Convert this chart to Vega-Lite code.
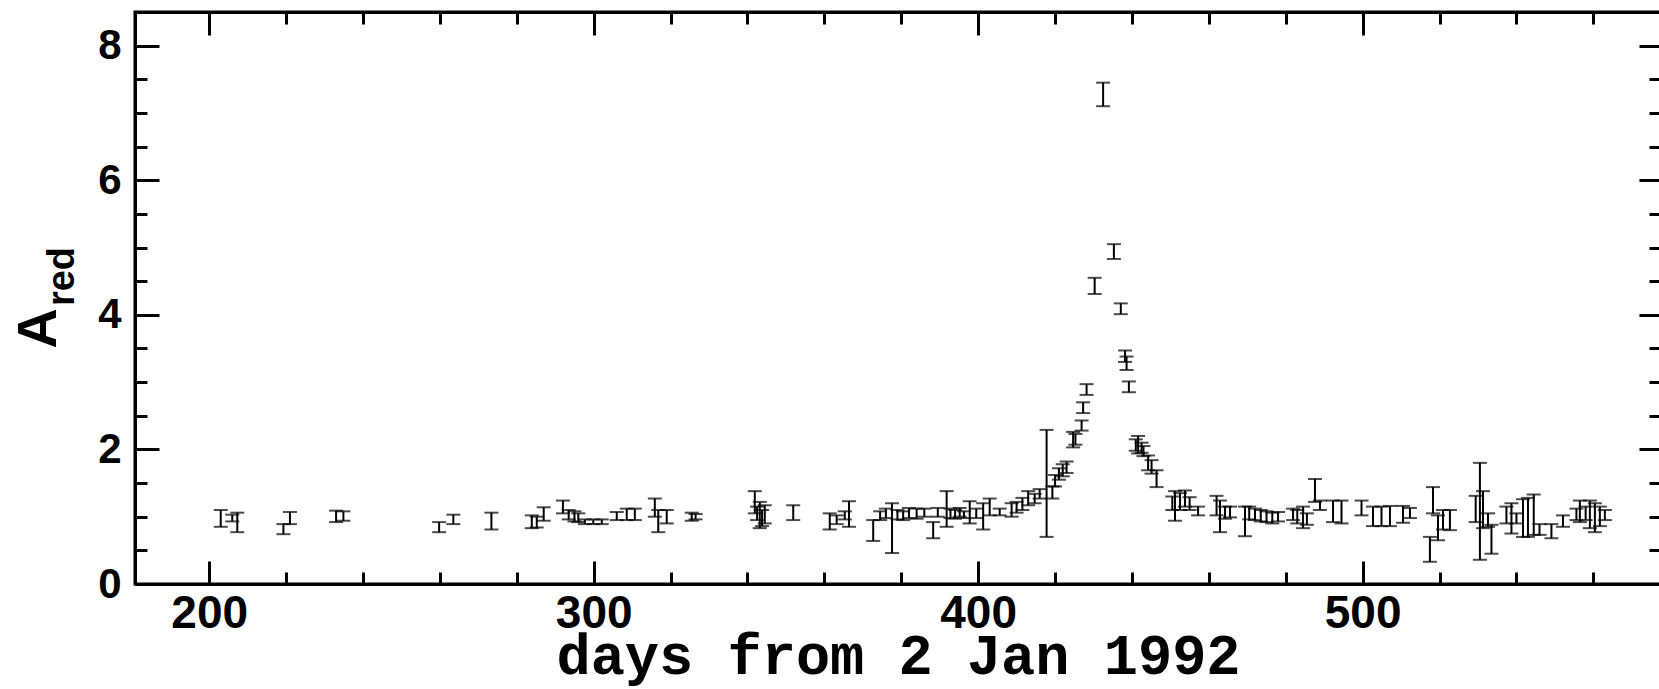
{
  "$schema": "https://vega.github.io/schema/vega-lite/v6.json",
  "width": 1526,
  "height": 572,
  "autosize": {"type": "none"},
  "padding": {"left": 135, "top": 12, "right": 0, "bottom": 105},
  "background": "white",
  "config": {
    "view": {"stroke": "black", "strokeWidth": 3},
    "axis": {"grid": false, "domainColor": "black", "domainWidth": 3, "tickColor": "black", "tickWidth": 3, "labelColor": "black", "titleColor": "black", "labelFont": "Liberation Sans", "labelFontWeight": "bold", "titleFont": "Liberation Sans"}
  },
  "data": {"values": [
    {"day": 203.0, "lo": 0.85, "hi": 1.10},
    {"day": 206.0, "lo": 0.93, "hi": 1.03},
    {"day": 207.3, "lo": 0.77, "hi": 1.06},
    {"day": 219.3, "lo": 0.74, "hi": 0.89},
    {"day": 221.0, "lo": 0.89, "hi": 1.07},
    {"day": 233.0, "lo": 0.92, "hi": 1.09},
    {"day": 234.9, "lo": 0.94, "hi": 1.08},
    {"day": 259.8, "lo": 0.77, "hi": 0.92},
    {"day": 263.5, "lo": 0.89, "hi": 1.03},
    {"day": 273.4, "lo": 0.81, "hi": 1.06},
    {"day": 283.9, "lo": 0.83, "hi": 1.02},
    {"day": 285.2, "lo": 0.84, "hi": 1.00},
    {"day": 287.0, "lo": 0.94, "hi": 1.14},
    {"day": 292.0, "lo": 1.05, "hi": 1.24},
    {"day": 293.5, "lo": 0.96, "hi": 1.10},
    {"day": 295.0, "lo": 0.93, "hi": 1.08},
    {"day": 296.0, "lo": 0.92, "hi": 1.05},
    {"day": 297.7, "lo": 0.89, "hi": 0.96},
    {"day": 299.9, "lo": 0.89, "hi": 0.96},
    {"day": 302.1, "lo": 0.89, "hi": 0.96},
    {"day": 306.0, "lo": 0.95, "hi": 1.07},
    {"day": 308.6, "lo": 0.95, "hi": 1.12},
    {"day": 310.7, "lo": 0.95, "hi": 1.12},
    {"day": 315.9, "lo": 1.00, "hi": 1.27},
    {"day": 316.8, "lo": 0.77, "hi": 1.10},
    {"day": 319.0, "lo": 0.90, "hi": 1.10},
    {"day": 325.5, "lo": 0.94, "hi": 1.06},
    {"day": 326.5, "lo": 0.96, "hi": 1.04},
    {"day": 341.9, "lo": 1.05, "hi": 1.38},
    {"day": 342.5, "lo": 0.95, "hi": 1.15},
    {"day": 343.2, "lo": 0.83, "hi": 1.22},
    {"day": 343.8, "lo": 0.86, "hi": 1.10},
    {"day": 344.5, "lo": 0.90, "hi": 1.17},
    {"day": 351.9, "lo": 0.95, "hi": 1.17},
    {"day": 361.4, "lo": 0.81, "hi": 1.05},
    {"day": 363.2, "lo": 0.89, "hi": 1.02},
    {"day": 365.3, "lo": 0.96, "hi": 1.08},
    {"day": 366.4, "lo": 0.85, "hi": 1.23},
    {"day": 372.7, "lo": 0.64, "hi": 0.95},
    {"day": 374.5, "lo": 0.95, "hi": 1.08},
    {"day": 376.0, "lo": 0.98, "hi": 1.12},
    {"day": 377.6, "lo": 0.46, "hi": 1.20},
    {"day": 379.0, "lo": 0.96, "hi": 1.10},
    {"day": 380.5, "lo": 0.95, "hi": 1.08},
    {"day": 382.0, "lo": 0.98, "hi": 1.13},
    {"day": 384.0, "lo": 0.97, "hi": 1.12},
    {"day": 386.0, "lo": 1.00, "hi": 1.12},
    {"day": 388.3, "lo": 0.68, "hi": 0.92},
    {"day": 389.5, "lo": 1.00, "hi": 1.13},
    {"day": 391.8, "lo": 0.85, "hi": 1.38},
    {"day": 392.8, "lo": 0.98, "hi": 1.12},
    {"day": 394.0, "lo": 0.97, "hi": 1.10},
    {"day": 395.2, "lo": 1.00, "hi": 1.13},
    {"day": 396.3, "lo": 0.98, "hi": 1.08},
    {"day": 397.8, "lo": 0.90, "hi": 1.23},
    {"day": 399.5, "lo": 0.98, "hi": 1.12},
    {"day": 401.3, "lo": 0.81, "hi": 1.20},
    {"day": 403.0, "lo": 1.02, "hi": 1.27},
    {"day": 405.6, "lo": 1.02, "hi": 1.12},
    {"day": 408.7, "lo": 1.00, "hi": 1.20},
    {"day": 410.0, "lo": 1.06, "hi": 1.22},
    {"day": 411.5, "lo": 1.10, "hi": 1.28},
    {"day": 413.0, "lo": 1.17, "hi": 1.38},
    {"day": 414.7, "lo": 1.20, "hi": 1.34},
    {"day": 416.0, "lo": 1.27, "hi": 1.41},
    {"day": 417.8, "lo": 0.70, "hi": 2.29},
    {"day": 419.3, "lo": 1.27, "hi": 1.45},
    {"day": 420.0, "lo": 1.45, "hi": 1.62},
    {"day": 421.0, "lo": 1.55, "hi": 1.72},
    {"day": 422.0, "lo": 1.60, "hi": 1.78},
    {"day": 423.0, "lo": 1.65, "hi": 1.82},
    {"day": 424.7, "lo": 2.03, "hi": 2.26},
    {"day": 425.3, "lo": 2.07, "hi": 2.23},
    {"day": 426.9, "lo": 2.28, "hi": 2.43},
    {"day": 427.3, "lo": 2.54, "hi": 2.70},
    {"day": 428.2, "lo": 2.81, "hi": 2.97},
    {"day": 430.3, "lo": 4.31, "hi": 4.55},
    {"day": 432.5, "lo": 7.10, "hi": 7.45},
    {"day": 435.3, "lo": 4.83, "hi": 5.05},
    {"day": 437.1, "lo": 4.01, "hi": 4.17},
    {"day": 438.2, "lo": 3.30, "hi": 3.47},
    {"day": 438.6, "lo": 3.18, "hi": 3.38},
    {"day": 439.2, "lo": 2.85, "hi": 3.01},
    {"day": 441.0, "lo": 1.98, "hi": 2.15},
    {"day": 441.6, "lo": 1.94, "hi": 2.20},
    {"day": 442.5, "lo": 1.95, "hi": 2.10},
    {"day": 443.0, "lo": 1.90, "hi": 2.05},
    {"day": 444.2, "lo": 1.69, "hi": 1.91},
    {"day": 445.1, "lo": 1.64, "hi": 1.84},
    {"day": 446.4, "lo": 1.44, "hi": 1.69},
    {"day": 450.5, "lo": 1.10, "hi": 1.30},
    {"day": 451.2, "lo": 0.94, "hi": 1.38},
    {"day": 452.5, "lo": 1.10, "hi": 1.35},
    {"day": 453.8, "lo": 1.15, "hi": 1.39},
    {"day": 455.0, "lo": 1.10, "hi": 1.29},
    {"day": 457.2, "lo": 1.02, "hi": 1.15},
    {"day": 462.0, "lo": 1.02, "hi": 1.31},
    {"day": 462.9, "lo": 0.77, "hi": 1.24},
    {"day": 464.2, "lo": 0.97, "hi": 1.15},
    {"day": 465.5, "lo": 0.99, "hi": 1.15},
    {"day": 469.4, "lo": 0.71, "hi": 1.15},
    {"day": 470.5, "lo": 0.96, "hi": 1.15},
    {"day": 472.0, "lo": 0.95, "hi": 1.12},
    {"day": 473.5, "lo": 0.93, "hi": 1.10},
    {"day": 475.0, "lo": 0.92, "hi": 1.08},
    {"day": 476.5, "lo": 0.90, "hi": 1.06},
    {"day": 478.0, "lo": 0.93, "hi": 1.07},
    {"day": 481.9, "lo": 0.95, "hi": 1.12},
    {"day": 483.0, "lo": 0.90, "hi": 1.10},
    {"day": 484.5, "lo": 0.83, "hi": 1.15},
    {"day": 485.5, "lo": 0.88, "hi": 1.05},
    {"day": 487.6, "lo": 1.22, "hi": 1.56},
    {"day": 488.9, "lo": 1.10, "hi": 1.24},
    {"day": 492.3, "lo": 0.92, "hi": 1.24},
    {"day": 494.5, "lo": 0.90, "hi": 1.24},
    {"day": 499.7, "lo": 1.02, "hi": 1.24},
    {"day": 502.7, "lo": 0.86, "hi": 1.15},
    {"day": 504.9, "lo": 0.86, "hi": 1.15},
    {"day": 507.1, "lo": 0.86, "hi": 1.16},
    {"day": 510.5, "lo": 0.91, "hi": 1.16},
    {"day": 512.3, "lo": 0.98, "hi": 1.13},
    {"day": 517.5, "lo": 0.33, "hi": 0.70},
    {"day": 518.3, "lo": 1.05, "hi": 1.44},
    {"day": 519.6, "lo": 0.65, "hi": 1.02},
    {"day": 520.9, "lo": 0.81, "hi": 1.10},
    {"day": 522.7, "lo": 0.80, "hi": 1.10},
    {"day": 529.4, "lo": 0.92, "hi": 1.31},
    {"day": 530.5, "lo": 0.36, "hi": 1.80},
    {"day": 531.3, "lo": 0.83, "hi": 1.38},
    {"day": 532.6, "lo": 0.85, "hi": 1.05},
    {"day": 533.5, "lo": 0.45, "hi": 0.88},
    {"day": 537.4, "lo": 0.90, "hi": 1.15},
    {"day": 538.7, "lo": 0.75, "hi": 1.20},
    {"day": 540.0, "lo": 0.90, "hi": 1.05},
    {"day": 541.7, "lo": 0.70, "hi": 1.26},
    {"day": 543.0, "lo": 0.70, "hi": 1.28},
    {"day": 544.5, "lo": 0.73, "hi": 1.33},
    {"day": 546.0, "lo": 0.73, "hi": 0.89},
    {"day": 549.1, "lo": 0.68, "hi": 0.89},
    {"day": 552.1, "lo": 0.85, "hi": 1.02},
    {"day": 555.6, "lo": 0.95, "hi": 1.12},
    {"day": 556.5, "lo": 0.92, "hi": 1.24},
    {"day": 558.0, "lo": 0.95, "hi": 1.15},
    {"day": 559.1, "lo": 0.83, "hi": 1.24},
    {"day": 560.4, "lo": 0.77, "hi": 1.20},
    {"day": 561.7, "lo": 0.86, "hi": 1.15},
    {"day": 563.0, "lo": 0.95, "hi": 1.10}
  ]},
  "layer": [
    {
      "mark": {"type": "rule", "color": "black", "strokeWidth": 2},
      "encoding": {
        "x": {"field": "day", "type": "quantitative", "scale": {"domain": [180.7, 577.6], "nice": false, "zero": false},
          "axis": {"orient": "bottom", "values": [200, 300, 400, 500], "tickSize": -23, "labelFontSize": 46, "labelPadding": 30, "labelFlush": false,
            "title": "days from 2 Jan 1992", "titleFont": "Liberation Mono", "titleFontSize": 57, "titleFontWeight": "bold", "titleY": 89, "titleBaseline": "alphabetic"}},
        "y": {"field": "lo", "type": "quantitative", "scale": {"domain": [0, 8.5], "nice": false},
          "axis": {"orient": "left", "values": [0, 2, 4, 6, 8], "tickSize": -24, "labelFontSize": 42, "labelPadding": 38, "labelFlush": false,
            "title": "A", "titleFontSize": 56, "titleFontWeight": "bold", "titleAngle": -90, "titleX": -80, "titleY": 316, "titleAlign": "center", "titleBaseline": "alphabetic"}},
        "y2": {"field": "hi"}
      }
    },
    {
      "mark": {"type": "tick", "orient": "horizontal", "color": "black", "size": 14, "thickness": 2},
      "encoding": {
        "x": {"field": "day", "type": "quantitative",
          "axis": {"orient": "bottom", "values": [220, 240, 260, 280, 320, 340, 360, 380, 420, 440, 460, 480, 520, 540, 560], "tickSize": -12, "labels": false, "domain": false, "title": null}},
        "y": {"field": "lo", "type": "quantitative",
          "axis": {"orient": "left", "values": [0.5, 1, 1.5, 2.5, 3, 3.5, 4.5, 5, 5.5, 6.5, 7, 7.5], "tickSize": -12, "labels": false, "domain": false,
            "title": "red", "titleFontSize": 38, "titleFontWeight": "bold", "titleAngle": -90, "titleX": -62, "titleY": 264, "titleAlign": "center", "titleBaseline": "alphabetic"}}
      }
    },
    {
      "mark": {"type": "tick", "orient": "horizontal", "color": "black", "size": 14, "thickness": 2},
      "encoding": {
        "x": {"field": "day", "type": "quantitative",
          "axis": {"orient": "top", "values": [200, 300, 400, 500], "tickSize": -23, "labels": false, "title": null}},
        "y": {"field": "hi", "type": "quantitative",
          "axis": {"orient": "right", "values": [0, 2, 4, 6, 8], "tickSize": -22, "labels": false, "title": null}}
      }
    },
    {
      "mark": {"type": "rule", "opacity": 0},
      "encoding": {
        "x": {"field": "day", "type": "quantitative",
          "axis": {"orient": "top", "values": [220, 240, 260, 280, 320, 340, 360, 380, 420, 440, 460, 480, 520, 540, 560], "tickSize": -12, "labels": false, "domain": false, "title": null}},
        "y": {"field": "lo", "type": "quantitative",
          "axis": {"orient": "right", "values": [0.5, 1, 1.5, 2.5, 3, 3.5, 4.5, 5, 5.5, 6.5, 7, 7.5], "tickSize": -12, "labels": false, "domain": false, "title": null}}
      }
    }
  ],
  "resolve": {"axis": {"x": "independent", "y": "independent"}}
}
